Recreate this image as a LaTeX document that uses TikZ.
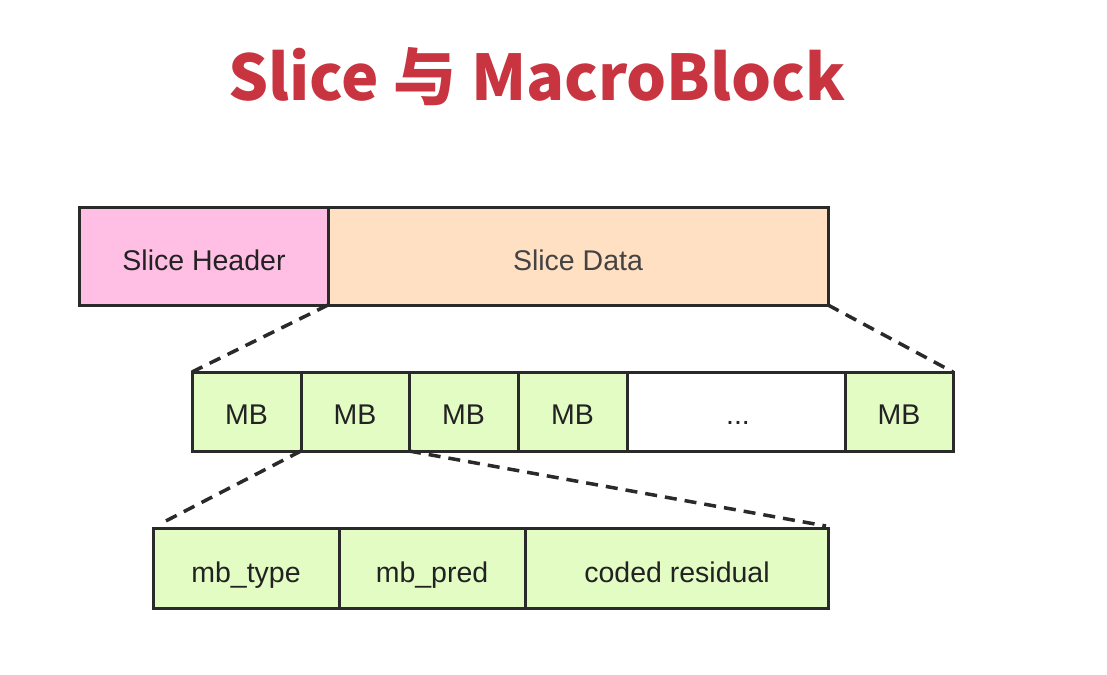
\documentclass[tikz,border=0pt]{standalone}
\usepackage{fontspec}
\setmainfont{Liberation Sans}
\newfontfamily\cjktitle{Noto Sans CJK SC}
\definecolor{titlered}{HTML}{C8343F}
\definecolor{pinkfill}{HTML}{FFBEE3}
\definecolor{peachfill}{HTML}{FFE0C2}
\definecolor{greenfill}{HTML}{E2FCC4}
\definecolor{edge}{HTML}{2A2A2A}
\definecolor{txt}{HTML}{222222}
\begin{document}
\begin{tikzpicture}[x=1pt,y=-1pt,
  cell/.style={draw=edge,line width=3pt},
  lbl/.style={anchor=base,inner sep=0pt,text=txt,font=\fontsize{28.5}{32}\selectfont},
  zoomline/.style={draw=edge,line width=3.5pt,dash pattern=on 12pt off 8pt}]
\useasboundingbox (0,0) rectangle (1107,674);
\node[font=\cjktitle\bfseries\fontsize{63}{76}\selectfont,text=titlered] (title) at (537,77) {Slice 与 MacroBlock};
% top row
\draw[cell,fill=pinkfill] (79,207) rectangle (328,305);
\node[lbl] (sh) at (204,270) {Slice Header};
\draw[cell,fill=peachfill] (328,207) rectangle (828,305);
\node[lbl,text=txt!85] (sd) at (578,270) {Slice Data};
\coordinate (sdbl) at (328,305);
\coordinate (sdbr) at (828,305);
% MB row
\foreach \a/\b/\n in {192/301/1,301/409/2,409/518/3,518/627/4,845/953/6}{
  \draw[cell,fill=greenfill] (\a,372) rectangle (\b,451);
  \node[lbl] (mb\n) at ({(\a+\b)/2},424) {MB};
}
\draw[cell,fill=white] (627,372) rectangle (845,451);
\node[lbl] (dots) at (738,424) {...};
\coordinate (mbtl) at (192,372);
\coordinate (mbtr) at (953,372);
\coordinate (mb2bl) at (301,451);
\coordinate (mb2br) at (409,451);
% bottom row
\draw[cell,fill=greenfill] (153,528) rectangle (339,608);
\node[lbl] (mbt) at (246,582) {mb\_type};
\draw[cell,fill=greenfill] (339,528) rectangle (525,608);
\node[lbl] (mbp) at (432,582) {mb\_pred};
\draw[cell,fill=greenfill] (525,528) rectangle (828,608);
\node[lbl] (cr) at (677,582) {coded residual};
\coordinate (btl) at (160,524);
\coordinate (btr) at (826,526);
% zoom lines
\draw[zoomline] (sdbl) -- (mbtl);
\draw[zoomline] (sdbr) -- (mbtr);
\draw[zoomline] (mb2bl) -- (btl);
\draw[zoomline] (mb2br) -- (btr);
\end{tikzpicture}
\end{document}
